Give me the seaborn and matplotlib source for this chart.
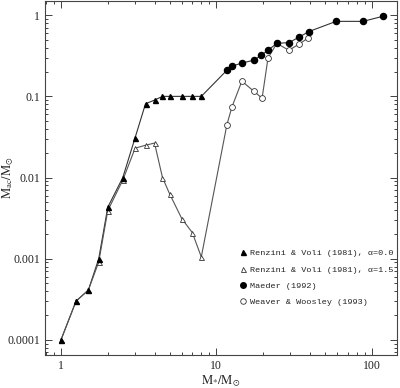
import numpy as np
import matplotlib
matplotlib.use("Agg")
import matplotlib.pyplot as plt
import seaborn as sns
from matplotlib.lines import Line2D
from matplotlib.ticker import FixedLocator, NullFormatter, LogLocator

# Renzini & Voli (1981)
rv_mass = [1, 1.25, 1.5, 1.75, 2, 2.5, 3, 3.5, 4, 4.5, 5, 6, 7, 8]
rv_a00 = [0.0001, 0.0003, 0.00041, 0.001, 0.0043, 0.01, 0.031, 0.081, 0.09,
          0.1, 0.1, 0.1, 0.1, 0.1]
rv_a15 = [0.0001, 0.0003, 0.00041, 0.00091, 0.0039, 0.0093, 0.023, 0.025, 0.0266,
          0.01, 0.0063, 0.0031, 0.0021, 0.00105]

# Maeder (1992)
mae_mass = [11.7, 12.6, 14.6, 17.5, 19.4, 21.5, 24.5, 29.4, 34, 39.5, 59, 88, 118]
mae_frac = [0.21, 0.236, 0.257, 0.28, 0.32, 0.37, 0.45, 0.46, 0.536, 0.63, 0.84, 0.84, 0.97]

# Weaver & Woosley (1993)
ww_mass = [11.7, 12.6, 14.6, 17.4, 19.7, 21.5, 24.5, 29.3, 34, 38.8]
ww_frac = [0.045, 0.074, 0.154, 0.116, 0.095, 0.296, 0.45, 0.37, 0.44, 0.52]

sns.set_style("ticks")
plt.rcParams["font.family"] = ["Liberation Serif", "DejaVu Serif"]
plt.rcParams["mathtext.fontset"] = "stix"

fig = plt.figure(figsize=(4.0, 3.88), dpi=100)
ax = fig.add_axes([0.1125, 0.085, 0.88, 0.912])

lw = 0.8
# connected curves: R&V alpha=0 -> Maeder, R&V alpha=1.5 -> Weaver & Woosley
sns.lineplot(x=rv_mass + mae_mass, y=rv_a00 + mae_frac, estimator=None, sort=False,
             color="#333333", linewidth=lw, ax=ax)
sns.lineplot(x=rv_mass + ww_mass, y=rv_a15 + ww_frac, estimator=None, sort=False,
             color="#555555", linewidth=lw, ax=ax)

ax.plot(rv_mass, rv_a15, linestyle="none", marker="^", markersize=3.6,
        markerfacecolor="white", markeredgecolor="#333333", markeredgewidth=0.6)
ax.plot(rv_mass, rv_a00, linestyle="none", marker="^", markersize=3.6,
        color="black")
ax.plot(ww_mass, ww_frac, linestyle="none", marker="o", markersize=4.2,
        markerfacecolor="white", markeredgecolor="#333333", markeredgewidth=0.6)
ax.plot(mae_mass, mae_frac, linestyle="none", marker="o", markersize=4.4,
        color="black")

ax.set_xscale("log")
ax.set_yscale("log")
ax.set_xlim(0.789, 145.5)
ax.set_ylim(6.5e-5, 1.49)

ax.xaxis.set_major_locator(FixedLocator([1, 10, 100]))
ax.set_xticklabels(["1", "10", "100"])
ax.yaxis.set_major_locator(FixedLocator([0.0001, 0.001, 0.01, 0.1, 1]))
ax.set_yticklabels(["0.0001", "0.001", "0.01", "0.1", "1"])
ax.xaxis.set_minor_locator(LogLocator(base=10, subs=np.arange(2, 10)))
ax.yaxis.set_minor_locator(LogLocator(base=10, subs=np.arange(2, 10)))
ax.xaxis.set_minor_formatter(NullFormatter())
ax.yaxis.set_minor_formatter(NullFormatter())

ax.tick_params(which="both", direction="in", top=True, right=True,
               labelsize=8.5, colors="#222222", width=0.6)
ax.tick_params(which="major", length=5)
ax.tick_params(which="minor", length=2.5)
for s in ax.spines.values():
    s.set_linewidth(0.8)
    s.set_color("#444444")

ax.set_xlabel(r"$\mathrm{M_{*}/M_{\odot}}$", fontsize=9, va="center")
ax.set_ylabel(r"$\mathrm{M_{ac}/M_{\odot}}$", fontsize=9, va="center")
ax.xaxis.set_label_coords(0.5, -0.075)
ax.yaxis.set_label_coords(-0.105, 0.5)

handles = [
    Line2D([], [], linestyle="none", marker="^", markersize=3.6, color="black"),
    Line2D([], [], linestyle="none", marker="^", markersize=3.6,
           markerfacecolor="white", markeredgecolor="#333333", markeredgewidth=0.6),
    Line2D([], [], linestyle="none", marker="o", markersize=4.0, color="black"),
    Line2D([], [], linestyle="none", marker="o", markersize=4.0,
           markerfacecolor="white", markeredgecolor="#333333", markeredgewidth=0.6),
]
labels = [
    "Renzini & Voli (1981), α=0.0",
    "Renzini & Voli (1981), α=1.5",
    "Maeder (1992)",
    "Weaver & Woosley (1993)",
]
leg = ax.legend(handles, labels, loc="upper left", bbox_to_anchor=(236 / 400, 1 - 245 / 388),
                bbox_transform=fig.transFigure, frameon=False, handlelength=0.6,
                handletextpad=0.5, labelspacing=1.0, borderpad=0,
                prop={"family": ["Liberation Mono", "DejaVu Sans Mono"], "size": 6.1})
for t in leg.get_texts():
    t.set_color("#222222")

fig.savefig("out.png", dpi=100)
